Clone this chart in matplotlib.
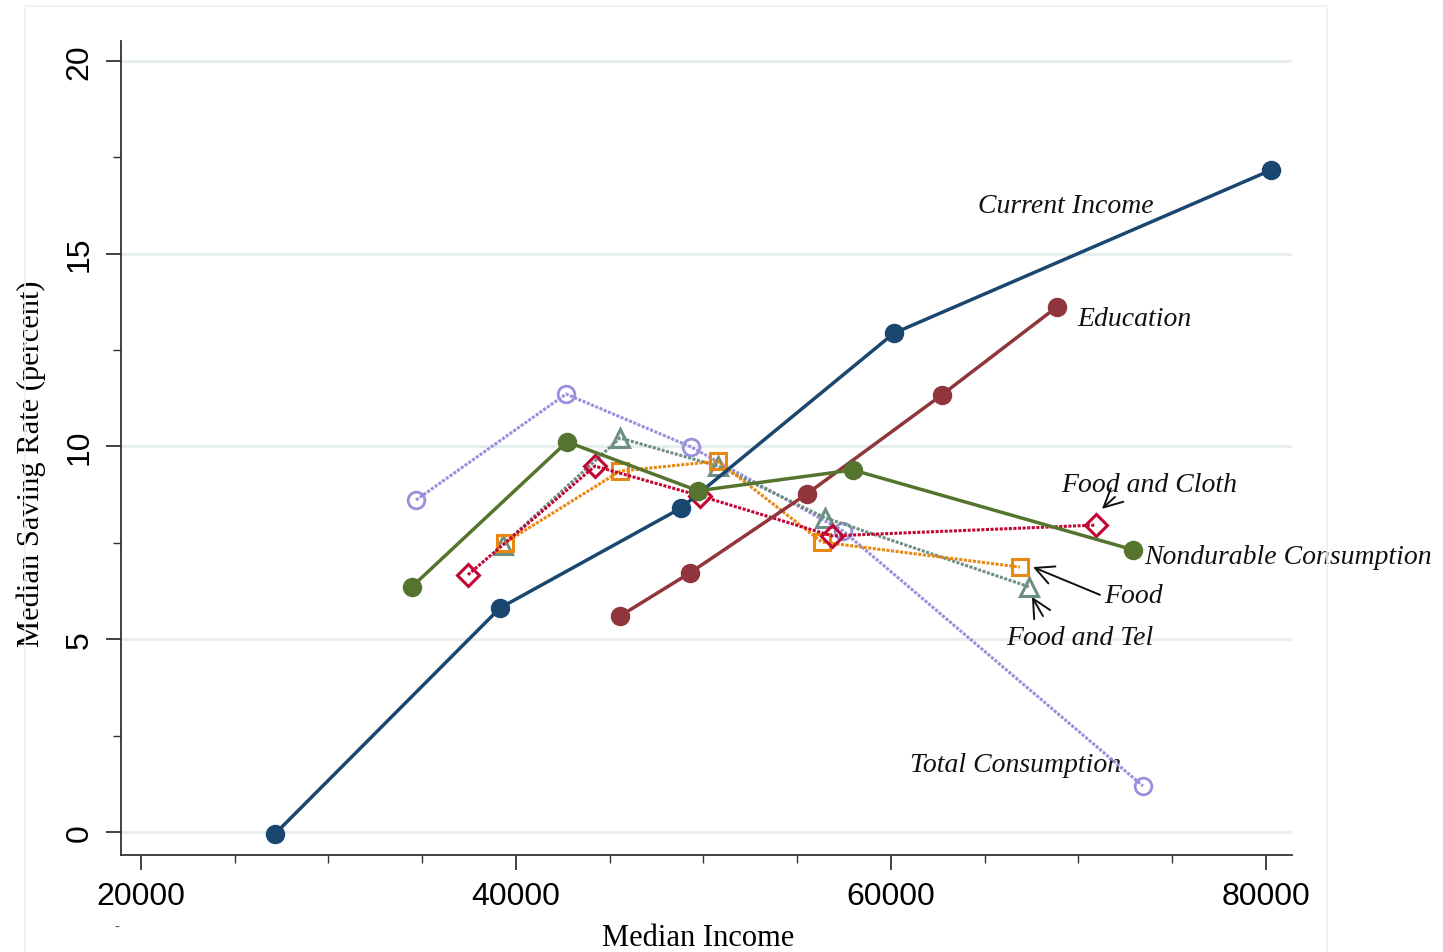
import matplotlib
matplotlib.use("Agg")
import matplotlib.pyplot as plt
from matplotlib.ticker import MultipleLocator
from matplotlib.patches import Rectangle

# ---- data ----
cur_x = [27150, 39150, 48800, 60160, 80270]
cur_y = [-0.05, 5.81, 8.40, 12.94, 17.17]
edu_x = [45550, 49280, 55520, 62720, 68850]
edu_y = [5.60, 6.72, 8.77, 11.34, 13.62]
nd_x = [34450, 42720, 49710, 57970, 72910]
nd_y = [6.36, 10.12, 8.85, 9.39, 7.32]
tot_x = [34670, 42670, 49330, 57440, 73440]
tot_y = [8.61, 11.36, 9.99, 7.81, 1.19]
ftel_x = [39310, 45550, 50770, 56480, 67360]
ftel_y = [7.45, 10.22, 9.49, 8.15, 6.36]
food_x = [39410, 45550, 50770, 56320, 66880]
food_y = [7.50, 9.36, 9.62, 7.52, 6.87]
fcl_x = [37440, 44210, 49810, 56850, 70930]
fcl_y = [6.67, 9.49, 8.72, 7.68, 7.96]

x_ticks = [20000, 40000, 60000, 80000]
y_ticks = [0, 5, 10, 15, 20]

fig = plt.figure(figsize=(14.43, 9.53), dpi=100)
fig.patch.set_facecolor("white")
W, H = 1443, 953
ax = fig.add_axes([121 / W, (H - 856) / H, (1292 - 121) / W, (856 - 42) / H])

ax.set_xlim(18933, 81390)
ax.set_ylim(-0.6, 20.52)

# grid
for yv in y_ticks:
    ax.axhline(yv, color="#e6eeee", lw=2.2, zorder=0)

# faint frame around image
fig.add_artist(Rectangle((25 / W, -0.01), (1327 - 25) / W, (H - 7) / H + 0.01,
                         transform=fig.transFigure, fill=False,
                         edgecolor="#eef0f0", lw=1.2))

ms = 13
dot = (0, (1, 0.5))
ax.plot(cur_x, cur_y, color="#1a476f", lw=2.5, marker="o", ms=ms, zorder=5)
ax.plot(edu_x, edu_y, color="#90353b", lw=2.5, marker="o", ms=ms, zorder=5)
ax.plot(nd_x, nd_y, color="#55752f", lw=2.5, marker="o", ms=ms, zorder=5)
ax.plot(tot_x, tot_y, color="#9a8fdc", lw=2.2, ls=dot, marker="o", ms=ms - 1,
        mfc="none", mew=2, zorder=4)
ax.plot(ftel_x, ftel_y, color="#6e8e84", lw=2.2, ls=dot, marker="^", ms=ms,
        mfc="none", mew=2.2, zorder=4)
ax.plot(food_x, food_y, color="#e8880e", lw=2.2, ls=dot, marker="s", ms=ms - 1,
        mfc="none", mew=2.2, zorder=4)
ax.plot(fcl_x, fcl_y, color="#c10534", lw=2.2, ls=dot, marker="D", ms=ms - 2,
        mfc="none", mew=2.2, zorder=4)

# axes styling
for s in ["top", "right"]:
    ax.spines[s].set_visible(False)
for s in ["left", "bottom"]:
    ax.spines[s].set_color("#333333")
    ax.spines[s].set_linewidth(1.3)

ax.set_xticks(x_ticks)
ax.set_yticks(y_ticks)
ax.xaxis.set_minor_locator(MultipleLocator(5000))
ax.yaxis.set_minor_locator(MultipleLocator(2.5))
ax.tick_params(which="major", length=11, width=1.3, color="#333333",
               labelsize=23, pad=8)
ax.tick_params(which="minor", length=6, width=1.0, color="#333333")
ax.set_xticklabels([str(v) for v in x_ticks], family="Liberation Sans")
ax.set_yticklabels([str(v) for v in y_ticks], family="Liberation Sans",
                   rotation=90, va="center")

ax.set_xlabel("Median Income", family="Liberation Serif", fontsize=22)
ax.xaxis.set_label_coords(0.4927, -0.084)
ax.set_ylabel("Median Saving Rate (percent)", family="Liberation Serif",
              fontsize=22)
ax.yaxis.set_label_coords(-0.064, 0.4816)

lab = dict(family="Liberation Serif", style="italic", fontsize=20, color="#111111")
ax.text(64640, 16.24, "Current Income", ha="left", va="center", **lab)
ax.text(69930, 13.32, "Education", ha="left", va="center", **lab)
ax.text(69100, 9.0, "Food and Cloth", ha="left", va="center", **lab)
ax.text(73500, 7.15, "Nondurable Consumption", ha="left", va="center", **lab)
ax.text(71360, 6.12, "Food", ha="left", va="center", **lab)
ax.text(66130, 5.05, "Food and Tel", ha="left", va="center", **lab)
ax.text(61010, 1.76, "Total Consumption", ha="left", va="center", **lab)

arrow = dict(arrowstyle="->,head_length=0.6,head_width=0.3", color="#111111",
             lw=1.4, mutation_scale=22, shrinkA=0, shrinkB=0)
ax.annotate("", xy=(71253, 8.38), xytext=(71947, 8.69), arrowprops=arrow)
ax.annotate("", xy=(67573, 6.87), xytext=(71147, 6.15), arrowprops=arrow)
ax.annotate("", xy=(67520, 6.10), xytext=(68107, 5.60), arrowprops=arrow)

fig.text(117 / W, 1 - 928 / H, "-", fontsize=10, color="#555555", ha="center", va="center")

fig.savefig("out.png", dpi=100, facecolor="white")
